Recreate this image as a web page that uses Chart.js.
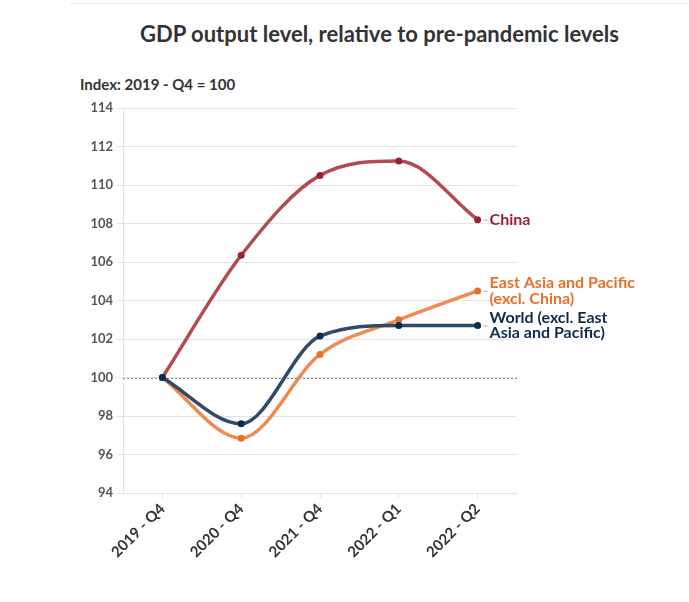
<!DOCTYPE html>
<html>
<head>
<meta charset="utf-8">
<script src="https://cdn.jsdelivr.net/npm/chart.js@4"></script>
<style>
  html, body { margin:0; padding:0; background:#fff; }
  body { width:689px; height:602px; position:relative; overflow:hidden; font-family: Lato, "Open Sans", sans-serif; }
  #topline { position:absolute; left:70px; top:3px; width:619px; height:1px; background:#ececec; }
  #title { position:absolute; left:70px; width:619px; top:20px; text-align:center; font-weight:700; font-size:22px; color:#333; }
  #subtitle { position:absolute; left:80px; top:75px; font-weight:700; font-size:15px; color:#333; }
  #wrap { position:absolute; left:0; top:0; width:689px; height:602px; }
</style>
</head>
<body>
<div id="topline"></div>
<div id="title">GDP output level, relative to pre-pandemic levels</div>
<div id="subtitle">Index: 2019 - Q4 = 100</div>
<div id="wrap"><canvas id="c" width="689" height="602"></canvas></div>
<script>
const categories = ["2019 - Q4", "2020 - Q4", "2021 - Q4", "2022 - Q1", "2022 - Q2"];
const chinaValues = [100, 106.35, 110.5, 111.25, 108.2];
const eastAsiaValues = [100, 96.85, 101.2, 103.0, 104.5];
const worldValues = [100, 97.6, 102.15, 102.7, 102.7];
const yTicks = [94, 96, 98, 100, 102, 104, 106, 108, 110, 112, 114];
const seriesLabels = {
  china: ["China"],
  eastAsia: ["East Asia and Pacific", "(excl. China)"],
  world: ["World (excl. East", "Asia and Pacific)"]
};
const baseline = 100;

const endLabels = {
  id: 'endLabels',
  afterDatasetsDraw(chart) {
    const ctx = chart.ctx;
    ctx.save();
    chart.data.datasets.forEach((ds, i) => {
      const meta = chart.getDatasetMeta(i);
      const pt = meta.data[meta.data.length - 1];
      const lines = ds.endLabel;
      ctx.strokeStyle = '#aaa';
      ctx.lineWidth = 1;
      ctx.beginPath();
      ctx.moveTo(pt.x + 6, pt.y + 0.5);
      ctx.lineTo(pt.x + 10, pt.y + 0.5);
      ctx.stroke();
      ctx.fillStyle = ds.labelColor;
      ctx.font = '700 16px Lato, "Open Sans", sans-serif';
      ctx.textBaseline = 'middle';
      ctx.textAlign = 'left';
      const lh = 15.5;
      const y0 = pt.y - (lines.length - 1) * lh / 2;
      lines.forEach((t, k) => ctx.fillText(t, pt.x + 12, y0 + k * lh));
    });
    ctx.restore();
  }
};

const baselinePlugin = {
  id: 'baselinePlugin',
  beforeDatasetsDraw(chart) {
    const y = chart.scales.y.getPixelForValue(baseline);
    const a = chart.chartArea;
    const ctx = chart.ctx;
    ctx.save();
    ctx.strokeStyle = '#8a8a8a';
    ctx.lineWidth = 1;
    ctx.setLineDash([2, 2]);
    ctx.beginPath();
    ctx.moveTo(a.left, Math.round(y) + 0.5);
    ctx.lineTo(a.right, Math.round(y) + 0.5);
    ctx.stroke();
    ctx.restore();
  }
};

new Chart(document.getElementById('c'), {
  type: 'line',
  data: {
    labels: categories,
    datasets: [
      { data: worldValues, borderColor: '#2f4b69', pointBackgroundColor: '#0c2c4e', pointBorderColor: '#0c2c4e', labelColor: '#0c2c4e', endLabel: seriesLabels.world },
      { data: eastAsiaValues, borderColor: '#ef8b52', pointBackgroundColor: '#e8702a', pointBorderColor: '#e8702a', labelColor: '#e8702a', endLabel: seriesLabels.eastAsia },
      { data: chinaValues, borderColor: '#b04c52', pointBackgroundColor: '#9b2230', pointBorderColor: '#9b2230', labelColor: '#9b2230', endLabel: seriesLabels.china }
    ].map(d => Object.assign({
      borderWidth: 3.5,
      pointRadius: 3.5,
      pointBorderWidth: 0,
      pointHoverRadius: 3.5,
      cubicInterpolationMode: 'monotone',
      fill: false
    }, d))
  },
  options: {
    responsive: false,
    animation: false,
    events: [],
    layout: { padding: { left: 70, right: 172, top: 108, bottom: 0 } },
    plugins: { legend: { display: false }, tooltip: { enabled: false }, title: { display: false } },
    scales: {
      x: {
        offset: true,
        grid: { drawOnChartArea: false, drawTicks: true, tickLength: 5, color: '#e3e3e3' },
        border: { display: true, color: '#e3e3e3' },
        ticks: {
          minRotation: 45, maxRotation: 45, padding: 2,
          color: '#333', font: { family: 'Lato, "Open Sans", sans-serif', size: 15, weight: '700' }
        },
        afterFit(scale) { scale.height = 109; }
      },
      y: {
        min: 94, max: 114,
        afterBuildTicks(scale) { scale.ticks = yTicks.map(v => ({ value: v })); },
        grid: { color: '#e3e3e3', tickLength: 6, drawTicks: true },
        border: { display: true, color: '#e3e3e3' },
        ticks: { padding: 4, color: '#555', font: { family: 'Lato, "Open Sans", sans-serif', size: 13, weight: '700' } },
        afterFit(scale) { scale.width = 53; }
      }
    }
  },
  plugins: [baselinePlugin, endLabels]
});
</script>
</body>
</html>
